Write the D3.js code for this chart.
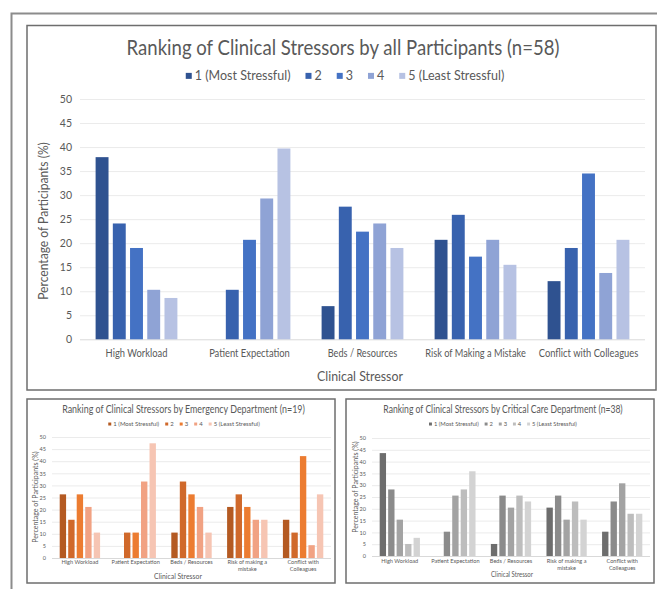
<!DOCTYPE html>
<html>
<head>
<meta charset="utf-8">
<script src="https://cdn.jsdelivr.net/npm/d3@7"></script>
<style>
  body { margin: 0; background: #fff; }
  svg { display: block; }
  text { font-family: Lato, "Open Sans", sans-serif; fill: #595959; }
</style>
</head>
<body>
<svg id="fig" width="657" height="589"></svg>
<script>
// ---- data -------------------------------------------------------------
const stressors = ["High Workload", "Patient Expectation", "Beds  / Resources",
                   "Risk of Making a Mistake", "Conflict with Colleagues"];
const stressorLinesSmall = [["High Workload"], ["Patient Expectation"], ["Beds  / Resources"],
                            ["Risk of making a", "mistake"], ["Conflict with", "Colleagues"]];
const ranks = ["1 (Most Stressful)", "2", "3", "4", "5 (Least Stressful)"];
const yTicks = [0, 5, 10, 15, 20, 25, 30, 35, 40, 45, 50];

// % of participants choosing each rank (rows: stressors, columns: rank 1..5)
const allParticipants = [
  [37.9, 24.1, 19.0, 10.3, 8.6],
  [0, 10.3, 20.7, 29.3, 39.7],
  [6.9, 27.6, 22.4, 24.1, 19.0],
  [20.7, 25.9, 17.2, 20.7, 15.5],
  [12.1, 19.0, 34.5, 13.8, 20.7]
];
const emergencyDept = [
  [26.3, 15.8, 26.3, 21.1, 10.5],
  [0, 10.5, 10.5, 31.6, 47.4],
  [10.5, 31.6, 26.3, 21.1, 10.5],
  [21.1, 26.3, 21.1, 15.8, 15.8],
  [15.8, 10.5, 42.1, 5.3, 26.3]
];
const criticalCareDept = [
  [43.6, 28.2, 15.4, 5.1, 7.7],
  [0, 10.3, 25.6, 28.2, 35.9],
  [5.1, 25.6, 20.5, 25.6, 23.1],
  [20.5, 25.6, 15.4, 23.1, 15.4],
  [10.3, 23.1, 30.8, 17.9, 17.9]
];

const bluePalette   = ["#2f5290", "#3862ae", "#4472c4", "#8fa3d5", "#b7c2e3"];
const orangePalette = ["#b45a22", "#d0692b", "#ec7c31", "#f1a283", "#f6c5b3"];
const grayPalette   = ["#6d6d6d", "#8b8b8b", "#a3a3a3", "#bdbdbd", "#d3d3d3"];

// ---- drawing ----------------------------------------------------------
const svg = d3.select("#fig");

// outer page frame (runs off the right and bottom edges)
svg.append("rect")
  .attr("x", 11.5).attr("y", 13.5).attr("width", 700).attr("height", 620)
  .attr("fill", "none").attr("stroke", "#8c8c8c").attr("stroke-width", 2);

// squeeze a text horizontally (about its anchor) so it is no wider than w
function fitWidth(sel, w) {
  sel.each(function () {
    const L = this.getBBox().width;
    if (L <= w) return;
    const s = w / L;
    const el = d3.select(this);
    const x = +el.attr("x") || 0, y = +el.attr("y") || 0;
    const t = el.attr("transform") || "";
    el.attr("x", 0).attr("y", 0)
      .attr("transform", `${t} translate(${x},${y}) scale(${s},1)`);
  });
}

function drawPanel(cfg) {
  const g = svg.append("g");
  const [bx0, by0, bx1, by1] = cfg.box;
  g.append("rect")
    .attr("x", bx0).attr("y", by0).attr("width", bx1 - bx0).attr("height", by1 - by0)
    .attr("fill", "#fff").attr("stroke", "#6e6e6e").attr("stroke-width", cfg.frameWidth);

  const x0 = d3.scaleBand().domain(stressors)
    .range([cfg.plot.left, cfg.plot.right]).paddingInner(0.2).paddingOuter(0.1);
  const x1 = d3.scaleBand().domain(d3.range(ranks.length))
    .range([0, x0.bandwidth()]).padding(0.25);
  const y = d3.scaleLinear().domain([0, 50]).range([cfg.plot.bottom, cfg.plot.top]);

  // gridlines + y tick labels
  const yAxis = g.append("g")
    .attr("transform", `translate(${cfg.plot.left},0)`)
    .call(d3.axisLeft(y).tickValues(yTicks)
      .tickSize(-(cfg.plot.right - cfg.plot.left)).tickPadding(cfg.yPad));
  yAxis.select(".domain").remove();
  yAxis.selectAll(".tick line").attr("stroke", d => d === 0 ? "#d9d9d9" : "#ebebeb");
  yAxis.selectAll(".tick text")
    .attr("font-family", "Lato, sans-serif").attr("font-size", cfg.tickSize).attr("fill", "#595959");

  // bars
  const groups = g.append("g").selectAll("g").data(cfg.values).join("g")
    .attr("transform", (d, i) => `translate(${x0(stressors[i])},0)`);
  groups.selectAll("rect").data(d => d).join("rect")
    .attr("x", (d, j) => x1(j)).attr("width", x1.bandwidth())
    .attr("y", d => y(d)).attr("height", d => y(0) - y(d))
    .attr("fill", (d, j) => cfg.palette[j]);

  // category labels
  const xAxis = g.append("g")
    .attr("transform", `translate(0,${cfg.plot.bottom})`)
    .call(d3.axisBottom(x0).tickSize(0).tickPadding(cfg.xPad));
  xAxis.select(".domain").remove();
  xAxis.selectAll(".tick text")
    .attr("font-family", "Lato, sans-serif").attr("font-size", cfg.xTickSize).attr("fill", "#595959")
    .each(function (d, i) {
      const lines = cfg.labels[i];
      const t = d3.select(this).text(null);
      lines.forEach((ln, k) => {
        t.append("tspan").attr("x", 0).attr("dy", k === 0 ? "0.71em" : cfg.lineGap).text(ln);
      });
    });
  if (cfg.labelWidths) {
    xAxis.selectAll(".tick text").each(function (d, i) {
      fitWidth(d3.select(this), cfg.labelWidths[i]);
    });
  }

  // title
  const title = g.append("text")
    .attr("x", cfg.title.x).attr("y", cfg.title.y).attr("text-anchor", "middle")
    .attr("font-size", cfg.title.size).text(cfg.title.text);
  fitWidth(title, cfg.title.width);

  // legend
  const lg = g.append("g");
  let cx = 0;
  ranks.forEach((r, j) => {
    lg.append("rect").attr("x", cx).attr("y", -cfg.legend.sq / 2 - cfg.legend.size * 0.33)
      .attr("width", cfg.legend.sq).attr("height", cfg.legend.sq).attr("fill", cfg.palette[j]);
    const t = lg.append("text").attr("x", cx + cfg.legend.sq + cfg.legend.sqGap).attr("y", 0)
      .attr("font-size", cfg.legend.size).text(r);
    cx += cfg.legend.sq + cfg.legend.sqGap + t.node().getComputedTextLength() + cfg.legend.itemGap;
  });
  const lw = cx - cfg.legend.itemGap;
  const sx = Math.min(1, cfg.legend.width / lw);
  lg.attr("transform", `translate(${cfg.legend.x - lw * sx / 2},${cfg.legend.y}) scale(${sx},1)`);

  // axis titles
  const yt = g.append("text")
    .attr("transform", `translate(${cfg.yTitle.x},${cfg.yTitle.y}) rotate(-90)`)
    .attr("text-anchor", "middle").attr("font-size", cfg.yTitle.size)
    .text("Percentage of Participants (%)");
  fitWidth(yt, cfg.yTitle.width);
  const xt = g.append("text")
    .attr("x", cfg.xTitle.x).attr("y", cfg.xTitle.y).attr("text-anchor", "middle")
    .attr("font-size", cfg.xTitle.size).text("Clinical Stressor");
  fitWidth(xt, cfg.xTitle.width);
}

// all participants
drawPanel({
  box: [27, 25.5, 656, 390], frameWidth: 1.5,
  plot: { left: 80, right: 645, top: 99, bottom: 339.3 },
  values: allParticipants, palette: bluePalette,
  labels: stressors.map(s => [s]), labelWidths: [62, 81, 70, 101, 100],
  yPad: 8, tickSize: 10.5, xPad: 10, xTickSize: 10.5, lineGap: "1em",
  title: { x: 343, y: 55, size: 21, width: 433, text: "Ranking of Clinical Stressors by all Participants  (n=58)" },
  legend: { x: 345, y: 80, size: 12.5, sq: 6, sqGap: 3, itemGap: 15, width: 320 },
  yTitle: { x: 48, y: 221, size: 14, width: 158 },
  xTitle: { x: 360, y: 381, size: 14, width: 86 }
});

// emergency department
drawPanel({
  box: [27, 399, 335, 583], frameWidth: 1.5,
  plot: { left: 52, right: 331, top: 437, bottom: 558 },
  values: emergencyDept, palette: orangePalette,
  labels: stressorLinesSmall, labelWidths: null,
  yPad: 6, tickSize: 5.5, xPad: 2.5, xTickSize: 5.6, lineGap: "1.1em",
  title: { x: 183.5, y: 413, size: 10.5, width: 243, text: "Ranking of Clinical Stressors by Emergency Department (n=19)" },
  legend: { x: 184, y: 426, size: 6, sq: 3, sqGap: 2, itemGap: 6, width: 153 },
  yTitle: { x: 38, y: 497, size: 7, width: 93 },
  xTitle: { x: 178, y: 579, size: 8, width: 48 }
});

// critical care department
drawPanel({
  box: [346, 399, 654, 583], frameWidth: 1.5,
  plot: { left: 372, right: 650, top: 438, bottom: 556 },
  values: criticalCareDept, palette: grayPalette,
  labels: stressorLinesSmall, labelWidths: null,
  yPad: 6, tickSize: 5.5, xPad: 3.5, xTickSize: 5.6, lineGap: "1.1em",
  title: { x: 503, y: 413, size: 10.5, width: 240, text: "Ranking of Clinical Stressors by Critical Care Department (n=38)" },
  legend: { x: 503, y: 426, size: 6, sq: 3, sqGap: 2, itemGap: 6, width: 148 },
  yTitle: { x: 358, y: 487, size: 7, width: 99 },
  xTitle: { x: 512, y: 577, size: 8, width: 42 }
});
</script>
</body>
</html>
